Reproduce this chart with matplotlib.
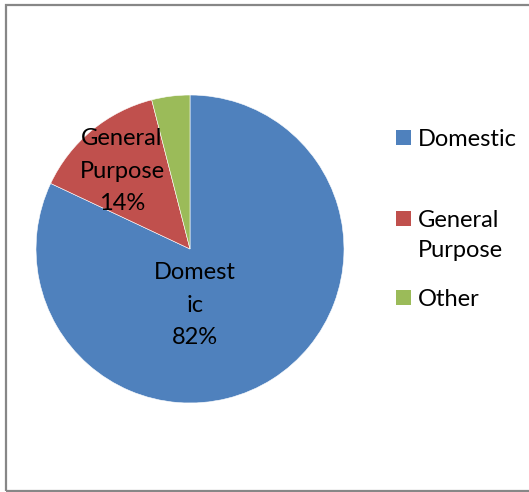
import matplotlib
matplotlib.use("Agg")
import matplotlib.pyplot as plt
from matplotlib.patches import Rectangle

categories = ["Domestic", "General Purpose", "Other"]
shares = [82, 14, 4]
label_names = [["Domest", "ic"], ["General", "Purpose"], None]
legend_lines = [["Domestic"], ["General", "Purpose"], ["Other"]]
colors = ["#4F81BD", "#C0504D", "#9BBB59"]

W, H, DPI = 529, 492, 100
plt.rcParams["font.family"] = ["Lato", "DejaVu Sans"]
fig = plt.figure(figsize=(W / DPI, H / DPI), dpi=DPI)


def fx(px):
    return px / W


def fy(py):
    return 1 - py / H


# chart frame
fig.patches.append(Rectangle((fx(6), fy(491)), 530 / W, 486 / H,
                             transform=fig.transFigure, fill=False,
                             edgecolor="#878787", linewidth=1.6))

# pie area: centre (190, 249), radius 154 px
cx, cy, r = 190, 249, 154
ax = fig.add_axes([fx(cx - r), fy(cy + r), 2 * r / W, 2 * r / H])
ax.pie(shares, colors=colors, startangle=90, counterclock=False,
       wedgeprops=dict(edgecolor="white", linewidth=0.4))
ax.set_aspect("equal")
ax.set_xlim(-1, 1)
ax.set_ylim(-1, 1)
ax.axis("off")

# slice labels: category name (wrapped) plus percentage
FS = 17
line_gap = 32.5
label_anchor = [(195, 279), (122, 145), None]
for names, share, anchor in zip(label_names, shares, label_anchor):
    if anchor is None:
        continue
    lines = names + [f"{share}%"]
    x0, y0 = anchor
    for i, line in enumerate(lines):
        fig.text(fx(x0), fy(y0 + i * line_gap), line, ha="center",
                 va="baseline", fontsize=FS, color="black")

# legend: square swatch and label lines
legend_baselines = [146, 227, 306]
legend_gap = 30
for lines, color, base in zip(legend_lines, colors, legend_baselines):
    fig.patches.append(Rectangle((fx(396), fy(base - 1)), 15 / W, 15 / H,
                                 transform=fig.transFigure, facecolor=color,
                                 edgecolor="none"))
    for i, line in enumerate(lines):
        fig.text(fx(418), fy(base + i * legend_gap), line, ha="left",
                 va="baseline", fontsize=FS, color="black")

fig.savefig("out.png", dpi=DPI)
